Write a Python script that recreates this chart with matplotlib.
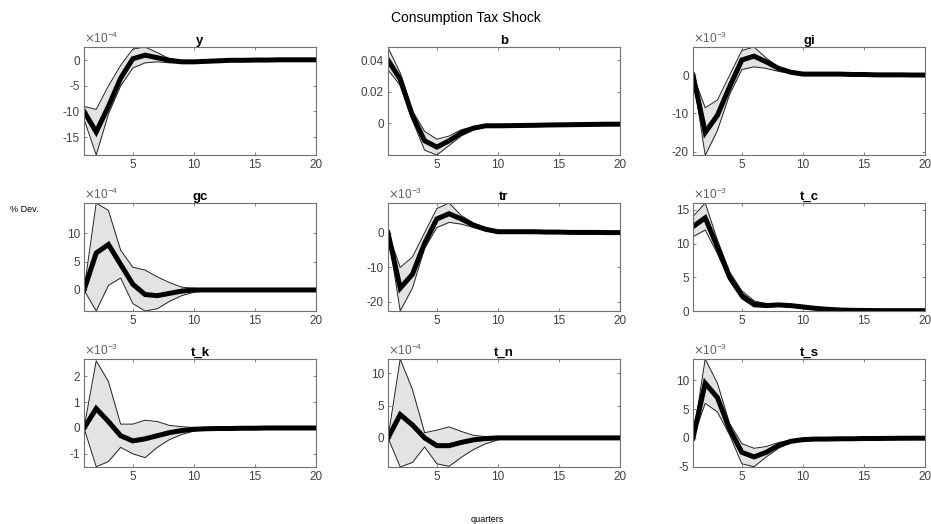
import matplotlib
matplotlib.use("Agg")
import matplotlib.pyplot as plt
import matplotlib.ticker as mticker
import numpy as np

plt.rcParams['font.family'] = ['Liberation Sans', 'DejaVu Sans']
plt.rcParams['axes.unicode_minus'] = False

quarters = np.arange(1, 21)

names = ['y', 'b', 'gi', 'gc', 'tr', 't_c', 't_k', 't_n', 't_s']
# exponent shown on each panel (None = plain)
exps = [-4, None, -3, -4, -3, -3, -3, -4, -3]

# values read in the units of each panel's exponent
y_mid = [-10, -14, -9, -3.5, 0.3, 1, 0.5, 0, -0.3, -0.3, -0.2, -0.1, 0, 0, 0.05, 0.05, 0.1, 0.1, 0.1, 0.1]
y_up = [-9, -9.6, -5, -1, 2.2, 2.6, 1.5, 0.3, 0, -0.1, -0.1, 0, 0.05, 0.1, 0.1, 0.1, 0.15, 0.15, 0.15, 0.15]
y_lo = [-11.5, -18.5, -10.5, -5, -1.5, -0.5, -0.3, -0.5, -0.5, -0.4, -0.3, -0.2, -0.1, -0.05, 0, 0, 0.05, 0.05, 0.05, 0.05]

b_mid = [0.040, 0.028, 0.005, -0.011, -0.015, -0.011, -0.006, -0.003, -0.0015, -0.0015, -0.0014, -0.0013, -0.0012, -0.001, -0.0009, -0.0008, -0.0007, -0.0006, -0.0005, -0.0005]
b_up = [0.048, 0.032, 0.008, -0.005, -0.010, -0.008, -0.004, -0.002, -0.001, -0.001, -0.001, -0.0009, -0.0008, -0.0007, -0.0006, -0.0005, -0.0004, -0.0003, -0.0003, -0.0002]
b_lo = [0.034, 0.024, 0.002, -0.017, -0.020, -0.014, -0.008, -0.004, -0.002, -0.002, -0.0018, -0.0017, -0.0016, -0.0014, -0.0012, -0.0011, -0.001, -0.0009, -0.0008, -0.0008]

gi_mid = [0, -15, -10.5, -3, 4, 5, 3.5, 1.8, 0.8, 0.3, 0.3, 0.3, 0.3, 0.2, 0.2, 0.1, 0.1, 0.1, 0.05, 0.05]
gi_up = [0, -8.5, -6.5, 0, 6.5, 7.4, 4.5, 2.2, 1, 0.4, 0.4, 0.4, 0.35, 0.3, 0.25, 0.2, 0.15, 0.15, 0.1, 0.1]
gi_lo = [0, -21, -14.5, -5, 1.5, 2.2, 1.8, 1, 0.5, 0.2, 0.2, 0.2, 0.2, 0.15, 0.1, 0.05, 0.05, 0, 0, 0]

gc_mid = [0, 6.5, 8, 4.5, 1, -0.8, -1, -0.6, -0.2, 0, 0, 0, 0, 0, 0, 0, 0, 0, 0, 0]
gc_up = [0, 15.3, 14, 7, 4, 3.5, 2.3, 1.3, 0.5, 0.3, 0.15, 0.1, 0.05, 0.05, 0, 0, 0, 0, 0, 0]
gc_lo = [0, -3.7, 0.8, 2.1, -2.4, -3.7, -3.3, -2, -1, -0.4, -0.15, -0.1, -0.05, -0.05, 0, 0, 0, 0, 0, 0]

tr_mid = [0, -16, -12, -3, 4, 5.5, 4, 2.2, 1, 0.3, 0.3, 0.3, 0.3, 0.2, 0.2, 0.1, 0.1, 0.1, 0.05, 0.05]
tr_up = [0, -10, -7, 0, 7, 8.6, 5, 2.8, 1.5, 0.5, 0.4, 0.4, 0.35, 0.3, 0.25, 0.2, 0.15, 0.15, 0.1, 0.1]
tr_lo = [0, -22.6, -16, -4.5, 1.5, 3, 2.5, 1.5, 0.6, 0.2, 0.2, 0.2, 0.2, 0.15, 0.1, 0.05, 0.05, 0, 0, 0]

tc_mid = [12.5, 13.8, 9.5, 5, 2.3, 1, 0.8, 0.9, 0.8, 0.6, 0.4, 0.25, 0.15, 0.1, 0.08, 0.06, 0.05, 0.05, 0.05, 0.05]
tc_up = [14, 16, 10.5, 5.8, 3, 1.5, 1.1, 1.1, 1, 0.8, 0.55, 0.35, 0.25, 0.18, 0.14, 0.1, 0.09, 0.08, 0.08, 0.08]
tc_lo = [11, 12, 8.5, 4.5, 1.8, 0.6, 0.6, 0.7, 0.6, 0.4, 0.25, 0.15, 0.08, 0.04, 0.02, 0.01, 0.01, 0.01, 0.01, 0.01]

tk_mid = [0, 0.75, 0.25, -0.3, -0.5, -0.42, -0.3, -0.18, -0.1, -0.05, -0.03, -0.02, -0.02, -0.01, -0.01, 0, 0, 0, 0, 0]
tk_up = [0, 2.6, 1.8, 0.15, 0.15, 0.3, 0.25, 0.1, 0.05, 0.02, 0.01, 0, 0, 0, 0, 0, 0, 0, 0, 0]
tk_lo = [0, -1.5, -1.3, -0.75, -1.0, -1.15, -0.75, -0.45, -0.25, -0.12, -0.06, -0.04, -0.03, -0.02, -0.01, 0, 0, 0, 0, 0]

tn_mid = [0, 3.6, 2, 0, -1.2, -1.2, -0.7, -0.3, -0.1, 0, 0, 0, 0, 0, 0, 0, 0, 0, 0, 0]
tn_up = [0, 12.2, 7.5, 0.8, 1.2, 1.7, 1, 0.4, 0.2, 0.1, 0.05, 0, 0, 0, 0, 0, 0, 0, 0, 0]
tn_lo = [0, -4.5, -3.8, -1.4, -4, -4.4, -3, -1.8, -0.9, -0.3, -0.1, -0.05, 0, 0, 0, 0, 0, 0, 0, 0]

ts_mid = [0, 9.5, 7, 1.5, -2.5, -3.3, -2.5, -1.3, -0.6, -0.3, -0.2, -0.2, -0.15, -0.15, -0.1, -0.1, -0.08, -0.06, -0.05, -0.05]
ts_up = [0, 13.7, 9.5, 2.5, -1, -1.8, -1.5, -0.8, -0.4, -0.2, -0.15, -0.12, -0.1, -0.1, -0.08, -0.06, -0.05, -0.04, -0.03, -0.03]
ts_lo = [0, 6, 4.5, 0.5, -4.5, -5.0, -3.3, -1.8, -0.8, -0.4, -0.3, -0.25, -0.2, -0.2, -0.15, -0.12, -0.1, -0.08, -0.07, -0.07]

mids = [y_mid, b_mid, gi_mid, gc_mid, tr_mid, tc_mid, tk_mid, tn_mid, ts_mid]
ups = [y_up, b_up, gi_up, gc_up, tr_up, tc_up, tk_up, tn_up, ts_up]
los = [y_lo, b_lo, gi_lo, gc_lo, tr_lo, tc_lo, tk_lo, tn_lo, ts_lo]

ylims = [(-18.5, 2.6), (-0.02, 0.0484), (-20.9, 7.4), (-3.7, 15.3), (-22.6, 8.6),
         (0, 16), (-1.51, 2.67), (-4.5, 12.2), (-5.05, 13.7)]
yticks = [[-15, -10, -5, 0], [0, 0.02, 0.04], [-20, -10, 0], [0, 5, 10], [-20, -10, 0],
          [0, 5, 10, 15], [-1, 0, 1, 2], [0, 5, 10], [-5, 0, 5, 10]]

fig = plt.figure(figsize=(9.31, 5.24), dpi=100)

lefts = [84, 388, 693]
tops = [47, 203, 359]
W, H = 232, 108
edge = '#707070'
tcol = '#404040'

for i in range(9):
    r, c = divmod(i, 3)
    ax = fig.add_axes([lefts[c] / 931, 1 - (tops[r] + H) / 524, W / 931, H / 524])
    s = 1.0 if exps[i] is None else 10.0 ** exps[i]
    mid = np.array(mids[i]) * s
    up = np.array(ups[i]) * s
    lo = np.array(los[i]) * s
    ax.fill_between(quarters, lo, up, color='#e3e3e3', lw=0)
    ax.plot(quarters, up, color='#222222', lw=0.7)
    ax.plot(quarters, lo, color='#222222', lw=0.7)
    ax.plot(quarters, mid, color='black', lw=3.6, solid_joinstyle='miter')
    ax.set_xlim(1, 20)
    ax.set_ylim(ylims[i][0] * s, ylims[i][1] * s)
    ax.set_xticks([5, 10, 15, 20])
    ax.set_yticks(np.array(yticks[i]) * s)
    if exps[i] is None:
        ax.yaxis.set_major_formatter(mticker.FuncFormatter(lambda v, p: ('%g' % round(v, 6))))
    else:
        ax.yaxis.set_major_formatter(mticker.FuncFormatter(lambda v, p, s=s: '%g' % round(v / s, 6)))
        ax.text(0.0, 1.01, r'$\times\mathregular{10^{%d}}$' % exps[i], transform=ax.transAxes,
                fontsize=8.5, color='#606060', ha='left', va='bottom')
    ax.tick_params(direction='in', top=True, right=True, length=2.5, width=0.6,
                   colors=edge, labelcolor=tcol, labelsize=8.5, pad=3)
    for sp in ax.spines.values():
        sp.set_color(edge)
        sp.set_linewidth(0.8)
    ax.set_title(names[i], fontsize=9.5, fontweight='bold', pad=2)

fig.text(466 / 931, 1 - 18 / 524, 'Consumption Tax Shock', fontsize=10, ha='center', va='center')
fig.text(10 / 931, 1 - 209 / 524, '% Dev.', fontsize=6.5, ha='left', va='center')
fig.text(487 / 931, 1 - 519 / 524, 'quarters', fontsize=6.5, ha='center', va='center')

fig.savefig('out.png', dpi=100)
